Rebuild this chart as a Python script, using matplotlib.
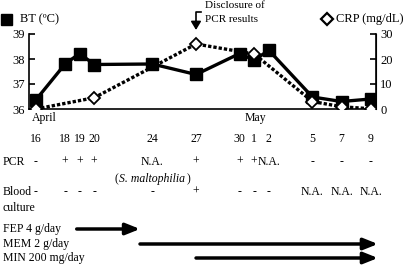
import matplotlib.pyplot as plt
from matplotlib.transforms import blended_transform_factory

plt.rcParams['font.family'] = ['Liberation Serif', 'DejaVu Serif']

# day numbers counted from April 1 (May 1 = 31)
days = [16, 18, 19, 20, 24, 27, 30, 31, 32, 35, 37, 39]
day_labels = ['16', '18', '19', '20', '24', '27', '30', '1', '2', '5', '7', '9']
bt = [36.37, 37.8, 38.22, 37.78, 37.8, 37.38, 38.22, 37.95, 38.35, 36.48, 36.3, 36.4]

crp_days = [16, 20, 27, 31, 35, 37, 39]
crp = [0.0, 4.5, 26.0, 22.0, 3.0, 0.9, 0.1]

pcr = ['-', '+', '+', '+', 'N.A.', '+', '+', '+', 'N.A.', '-', '-', '-']
blood = ['-', '-', '-', '-', '-', '+', '-', '-', '-', 'N.A.', 'N.A.', 'N.A.']

drugs = ['FEP 4 g/day', 'MEM 2 g/day', 'MIN 200 mg/day']
drug_start = [18.8, 23.15, 27]
drug_end = [23.15, 39.5, 39.5]

W, H = 410, 266
fig = plt.figure(figsize=(W / 100, H / 100), dpi=100)
ax = fig.add_axes([29 / W, 1 - 109 / H, (376 - 29) / W, 75 / H])
ax2 = ax.twinx()

ax.plot(days, bt, color='black', lw=2.4, marker='s', ms=8, zorder=3)
ax2.plot(crp_days, crp, color='black', lw=2.4, ls=(0, (1, 0.6)), marker='D',
         ms=6, mfc='white', mec='black', mew=1.3, zorder=4)

ax.set_xlim(15.52, 39.37)
ax.set_ylim(36, 39)
ax2.set_ylim(0, 30)
ax.set_yticks([36, 37, 38, 39])
ax2.set_yticks([0, 10, 20, 30])
ax.set_xticks([])
for a in (ax, ax2):
    a.spines['top'].set_visible(False)
    a.tick_params(axis='y', direction='in', length=4, width=1.2, labelsize=9, pad=3)
ax.spines['left'].set_linewidth(1.2)
ax2.spines['right'].set_linewidth(1.2)
ax.spines['bottom'].set_linewidth(1.2)
ax2.spines['left'].set_visible(False)
ax2.spines['bottom'].set_visible(False)

tr = blended_transform_factory(ax.transData, fig.transFigure)
fy = lambda y: 1 - y / H
fs = 8.5

ax.text(16.55, fy(118), 'April', transform=tr, ha='center', va='center', fontsize=fs)
ax.text(31.1, fy(118), 'May', transform=tr, ha='center', va='center', fontsize=fs)
for d, lab, p, b in zip(days, day_labels, pcr, blood):
    ax.text(d, fy(139), lab, transform=tr, ha='center', va='center', fontsize=fs)
    ax.text(d, fy(162), p, transform=tr, ha='center', va='center', fontsize=fs)
    ax.text(d, fy(192), b, transform=tr, ha='center', va='center', fontsize=fs)
sm = ax.text(24, fy(185), 'S. maltophilia', transform=tr, ha='center',
             va='bottom', fontsize=fs, style='italic')
ax.annotate('(', xy=(0, 0), xycoords=sm, xytext=(-0.5, 0), textcoords='offset points',
            ha='right', va='bottom', fontsize=fs)
ax.annotate(')', xy=(1, 0), xycoords=sm, xytext=(1, 0), textcoords='offset points',
            ha='left', va='bottom', fontsize=fs)

fig.text(3 / W, fy(162), 'PCR', ha='left', va='center', fontsize=fs)
fig.text(3 / W, fy(192), 'Blood', ha='left', va='center', fontsize=fs)
fig.text(3 / W, fy(208), 'culture', ha='left', va='center', fontsize=fs)

for i, (name, s, e) in enumerate(zip(drugs, drug_start, drug_end)):
    y = fy([229, 244, 258][i])
    fig.text(3 / W, y, name, ha='left', va='center', fontsize=fs)
    ax.annotate('', xy=(e, y), xytext=(s, y), xycoords=tr, textcoords=tr,
                annotation_clip=False,
                arrowprops=dict(arrowstyle='-|>,head_length=0.85,head_width=0.34',
                                color='black', lw=2.5, shrinkA=0, shrinkB=0))

# legends
fig.patches.append(plt.Rectangle((1 / W, fy(25)), 11 / W, 11 / H, color='black',
                                 transform=fig.transFigure))
fig.text(20 / W, fy(19), 'BT (ºC)', ha='left', va='center', fontsize=9)
fig.lines.append(plt.Line2D([327 / W], [fy(19)], marker='D', ms=6, mfc='white',
                            mec='black', mew=1.6, transform=fig.transFigure))
fig.text(336 / W, fy(19), 'CRP (mg/dL)', ha='left', va='center', fontsize=9)

# disclosure annotation
fig.lines.append(plt.Line2D([201 / W, 196 / W, 196 / W], [fy(12), fy(12), fy(22)],
                            color='black', lw=1.2, transform=fig.transFigure))
ax.annotate('', xy=(196 / W, fy(30)), xytext=(196 / W, fy(21)),
            xycoords='figure fraction', textcoords='figure fraction',
            arrowprops=dict(arrowstyle='-|>,head_length=0.5,head_width=0.3',
                            color='black', lw=1.2, shrinkA=0, shrinkB=0))
fig.text(205 / W, fy(6), 'Disclosure of', ha='left', va='center', fontsize=8)
fig.text(205 / W, fy(19), 'PCR results', ha='left', va='center', fontsize=8)

fig.savefig('out.png', dpi=100)
